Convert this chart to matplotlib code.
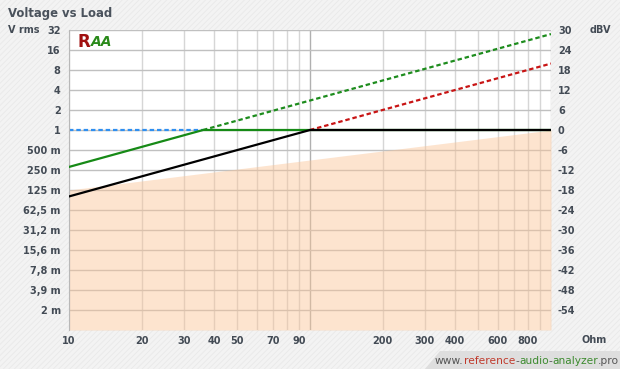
import numpy as np
import matplotlib
matplotlib.use('Agg')
import matplotlib.pyplot as plt
from matplotlib.patches import Rectangle, Polygon

# load (Ohm) and voltage (V rms)
blue_r = [10, 36]
blue_v = [1.0, 1.0]
green_r = [10, 36, 1000]
green_v = [0.278, 1.0, 1.0]
green_dot_r = [36, 1000]
green_dot_v = [1.0, 27.8]
black_r = [10, 100, 1000]
black_v = [0.1, 1.0, 1.0]
red_dot_r = [100, 1000]
red_dot_v = [1.0, 10.0]
shade_r = [10, 1000]
shade_v = [0.125, 1.0]

y_ticks = [2 ** k for k in range(-9, 6)]
y_labels = ['2 m', '3,9 m', '7,8 m', '15,6 m', '31,2 m', '62,5 m', '125 m', '250 m',
            '500 m', '1', '2', '4', '8', '16', '32']
dbv_labels = ['-54', '-48', '-42', '-36', '-30', '-24', '-18', '-12', '-6',
              '0', '6', '12', '18', '24', '30']
x_grid = [10, 20, 30, 40, 50, 60, 70, 80, 90, 100, 200, 300, 400, 500, 600, 700, 800, 900, 1000]
x_labeled = [10, 20, 30, 40, 50, 70, 90, 200, 300, 400, 600, 800]

txt = '#434b55'
plt.rcParams['hatch.linewidth'] = 0.6

fig = plt.figure(figsize=(6.2, 3.69), dpi=100)
fig.patch.set_facecolor('#f3f3f3')
bg = Rectangle((0, 0), 1, 1, transform=fig.transFigure, facecolor='none',
               edgecolor='#e9e9e9', hatch='//////', lw=0)
bg.set_zorder(-10)
fig.patches.append(bg)

ax = fig.add_axes([69 / 620, 1 - 330 / 369, 482 / 620, 300 / 369])
ax.set_zorder(1)
ax.set_xscale('log')
ax.set_yscale('log', base=2)
ax.set_xlim(10, 1000)
ax.set_ylim(2 ** -10, 32)
ax.set_facecolor('white')

# grid
for xv in x_grid:
    c = '#b0b0b0' if xv == 100 else '#d6d6d6'
    ax.axvline(xv, color=c, lw=1, zorder=0)
for yv in y_ticks:
    ax.axhline(yv, color='#c0c0c0', lw=1, zorder=0)

ax.fill_between(shade_r, 2 ** -10, shade_v, color='#fbc496', alpha=0.45, lw=0, zorder=1)

ax.plot(blue_r, blue_v, color='#2f8ff0', lw=1.6, ls=(0, (2, 1.3)), zorder=2)
ax.plot(green_dot_r, green_dot_v, color='#1d8c1d', lw=1.6, ls=(0, (2, 1.3)), zorder=3)
ax.plot(green_r, green_v, color='#168a16', lw=1.6, zorder=4)
ax.plot(red_dot_r, red_dot_v, color='#c81414', lw=1.6, ls=(0, (2, 1.3)), zorder=5)
ax.plot(black_r, black_v, color='black', lw=1.6, zorder=6)

ax.set_yticks(y_ticks)
ax.set_yticklabels(y_labels)
ax.yaxis.set_minor_locator(matplotlib.ticker.NullLocator())
ax.set_xticks(x_labeled)
ax.set_xticklabels([str(v) for v in x_labeled])
ax.xaxis.set_minor_locator(matplotlib.ticker.NullLocator())
ax.tick_params(length=0, labelsize=7, labelcolor=txt, pad=6)
ax.tick_params(axis='x', pad=4)
for lab in ax.get_xticklabels() + ax.get_yticklabels():
    lab.set_fontweight('bold')
for s in ['top', 'right', 'bottom']:
    ax.spines[s].set_visible(False)
ax.spines['left'].set_color('#b8b8b8')

ax2 = ax.twinx()
ax2.set_yscale('log', base=2)
ax2.set_ylim(2 ** -10, 32)
ax2.set_yticks(y_ticks)
ax2.set_yticklabels(dbv_labels)
ax2.yaxis.set_minor_locator(matplotlib.ticker.NullLocator())
ax2.tick_params(length=0, labelsize=7, labelcolor=txt, pad=5)
for lab in ax2.get_yticklabels():
    lab.set_fontweight('bold')
for s in ax2.spines.values():
    s.set_visible(False)

# logo
ax.text(0.018, 0.99, 'R', transform=ax.transAxes, color='#a01010', fontsize=12,
        fontweight='bold', va='top', ha='left', zorder=10)
ax.text(0.045, 0.985, 'AA', transform=ax.transAxes, color='#2a8a1a', fontsize=10,
        fontweight='bold', fontstyle='italic', va='top', ha='left', zorder=10)

fig.text(8 / 620, 1 - 13 / 369, 'Voltage vs Load', fontsize=8.4, fontweight='bold',
         color='#4a525c', va='center', ha='left')
fig.text(8 / 620, 1 - 30 / 369, 'V rms', fontsize=7, fontweight='bold', color=txt,
         va='center', ha='left')
fig.text(590 / 620, 1 - 30 / 369, 'dBV', fontsize=7, fontweight='bold', color=txt,
         va='center', ha='left')
fig.text(582 / 620, 1 - 340 / 369, 'Ohm', fontsize=7, fontweight='bold', color=txt,
         va='center', ha='left')

# watermark
fig.patches.append(Polygon([(425 / 620, 0), (620 / 620, 0), (620 / 620, 18 / 369),
                            (440 / 620, 18 / 369)], closed=True, transform=fig.transFigure,
                           facecolor='#dedede', lw=0, zorder=1))
parts = [('www.', '#555555'), ('reference', '#c0392b'), ('-', '#555555'),
         ('audio', '#3d8b2f'), ('-', '#555555'), ('analyzer', '#3d8b2f'), ('.pro', '#555555')]
renderer = fig.canvas.get_renderer()
xpos = 435 / 620
for s, c in parts:
    t = fig.text(xpos, 1 - 361 / 369, s, fontsize=7.7, color=c, va='center', ha='left')
    bb = t.get_window_extent(renderer=renderer)
    xpos += bb.width / fig.bbox.width

fig.savefig('out.png', dpi=100, facecolor=fig.get_facecolor())
